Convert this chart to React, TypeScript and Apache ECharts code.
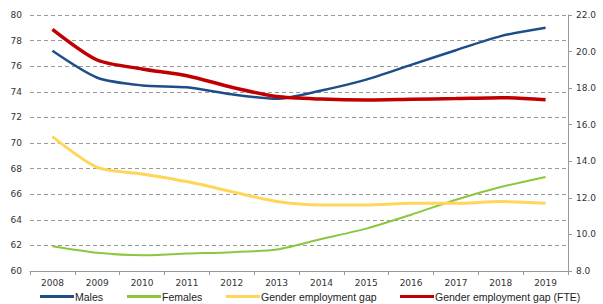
import React, { useEffect, useRef } from "react";
import * as echarts from "echarts";

const years = ["2008", "2009", "2010", "2011", "2012", "2013", "2014", "2015", "2016", "2017", "2018", "2019"];
const males = [77.2, 75.1, 74.5, 74.35, 73.8, 73.45, 74.1, 74.95, 76.1, 77.25, 78.35, 79.0];
const females = [61.93, 61.42, 61.23, 61.36, 61.47, 61.68, 62.5, 63.31, 64.4, 65.57, 66.56, 67.35];
const gap = [15.35, 13.67, 13.31, 12.89, 12.34, 11.8, 11.61, 11.61, 11.7, 11.7, 11.8, 11.7];
const gapFte = [21.22, 19.54, 19.05, 18.68, 18.05, 17.54, 17.4, 17.35, 17.39, 17.43, 17.48, 17.37];

const seriesNames = ["Males", "Females", "Gender employment gap", "Gender employment gap (FTE)"];
const legendLefts = [40, 127, 226, 400];

const FONT = "DejaVu Sans";
const LEGEND_FONT = "Liberation Sans";

export default function App() {
  const ref = useRef<HTMLDivElement>(null);
  useEffect(() => {
    if (!ref.current) return;
    const chart = echarts.init(ref.current, undefined, { renderer: "svg" });
    chart.setOption({
      animation: false,
      textStyle: { fontFamily: FONT },
      grid: { left: 30, right: 35, top: 15, bottom: 33, containLabel: false },
      legend: seriesNames.map((n, i) => ({
        left: legendLefts[i],
        top: 291,
        padding: 0,
        icon: "rect",
        itemWidth: 34,
        itemHeight: 3,
        textStyle: { fontSize: 10.5, color: "#222", fontFamily: LEGEND_FONT, padding: [0, 0, 0, -4] },
        data: [n],
      })),
      xAxis: {
        type: "category",
        data: years,
        boundaryGap: true,
        axisLine: { show: true, lineStyle: { color: "#999", width: 1 } },
        axisTick: { show: true, alignWithLabel: false, length: 4, lineStyle: { color: "#999" } },
        axisLabel: { fontSize: 9, color: "#333", margin: 7, fontFamily: FONT },
      },
      yAxis: [
        {
          type: "value",
          min: 60,
          max: 80,
          interval: 2,
          axisLine: { show: false },
          axisTick: { show: false },
          axisLabel: { fontSize: 9, color: "#333", margin: 8, fontFamily: FONT },
          splitLine: { show: true, lineStyle: { color: "#9a9a9a", type: [4, 3], width: 1 } },
        },
        {
          type: "value",
          min: 8,
          max: 22,
          interval: 2,
          position: "right",
          axisLine: { show: true, lineStyle: { color: "#999", width: 1 } },
          axisTick: { show: true, length: 4, lineStyle: { color: "#999" } },
          axisLabel: {
            fontSize: 9,
            color: "#333",
            margin: 8,
            fontFamily: FONT,
            formatter: (v: number) => v.toFixed(1),
          },
          splitLine: { show: false },
        },
      ],
      series: [
        {
          name: "Males",
          type: "line",
          data: males,
          yAxisIndex: 0,
          smooth: 0.25,
          symbol: "none",
          lineStyle: { color: "#1d4e89", width: 2.5 },
          itemStyle: { color: "#1d4e89" },
        },
        {
          name: "Females",
          type: "line",
          data: females,
          yAxisIndex: 0,
          smooth: 0.25,
          symbol: "none",
          lineStyle: { color: "#8cc63f", width: 2 },
          itemStyle: { color: "#8cc63f" },
        },
        {
          name: "Gender employment gap",
          type: "line",
          data: gap,
          yAxisIndex: 1,
          smooth: 0.25,
          symbol: "none",
          lineStyle: { color: "#ffd55a", width: 3 },
          itemStyle: { color: "#ffd55a" },
        },
        {
          name: "Gender employment gap (FTE)",
          type: "line",
          data: gapFte,
          yAxisIndex: 1,
          smooth: 0.25,
          symbol: "none",
          lineStyle: { color: "#c00000", width: 3.5 },
          itemStyle: { color: "#c00000" },
        },
      ],
    });
    return () => chart.dispose();
  }, []);
  return <div ref={ref} style={{ width: 603, height: 304, position: "absolute", left: 0, top: 0 }} />;
}
